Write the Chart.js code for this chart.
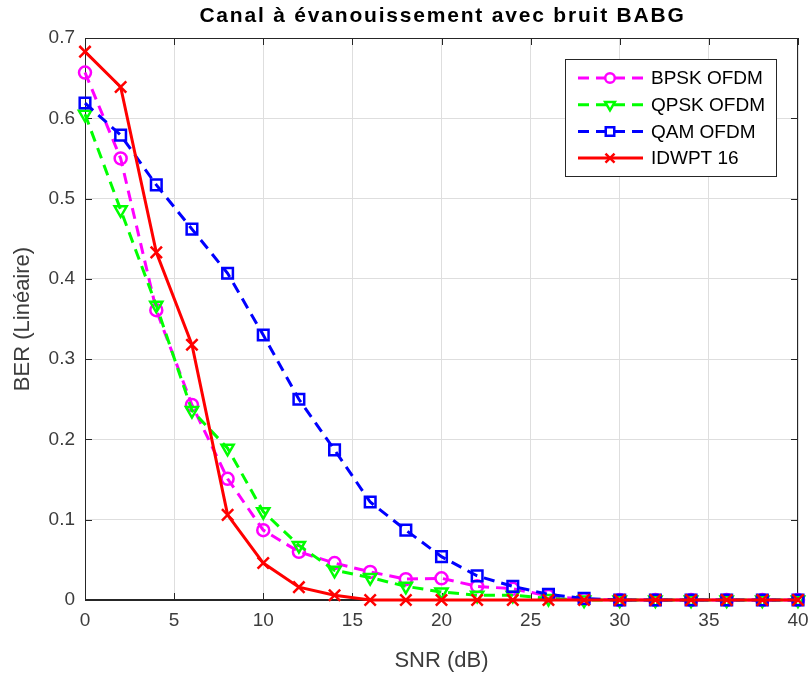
<!DOCTYPE html>
<html>
<head>
<meta charset="utf-8">
<title>Canal à évanouissement avec bruit BABG</title>
<script src="https://cdn.jsdelivr.net/npm/chart.js@4.4.0/dist/chart.umd.min.js"></script>
<style>
  html, body { margin: 0; padding: 0; background: #fff; }
  #wrap { width: 811px; height: 675px; position: relative; }
</style>
</head>
<body>
<div id="wrap"><canvas id="berChart"></canvas></div>
<script>
// SNR sweep in dB
const snr = [0, 2, 4, 6, 8, 10, 12, 14, 16, 18, 20, 22, 24, 26, 28, 30, 32, 34, 36, 38, 40];

// BER curves (linear scale)
const berBpsk  = [0.657, 0.550, 0.361, 0.243, 0.151, 0.087, 0.060, 0.046, 0.035, 0.026, 0.027, 0.017, 0.014, 0.005, 0.001, 0, 0, 0, 0, 0, 0];
const berQpsk  = [0.605, 0.486, 0.367, 0.236, 0.189, 0.110, 0.068, 0.037, 0.028, 0.017, 0.010, 0.006, 0.006, 0.002, 0, 0, 0, 0, 0, 0, 0];
const berQam   = [0.619, 0.579, 0.517, 0.462, 0.407, 0.330, 0.250, 0.187, 0.122, 0.087, 0.054, 0.030, 0.017, 0.007, 0.002, 0, 0, 0, 0, 0, 0];
const berIdwpt = [0.683, 0.639, 0.433, 0.318, 0.106, 0.046, 0.016, 0.006, 0, 0, 0, 0, 0, 0, 0, 0, 0, 0, 0, 0, 0];

const seriesNames = ['BPSK OFDM', 'QPSK OFDM', 'QAM OFDM', 'IDWPT 16'];

// axis ticks
const xTickValues = [0, 5, 10, 15, 20, 25, 30, 35, 40];
const yTickValues = [0, 0.1, 0.2, 0.3, 0.4, 0.5, 0.6, 0.7];

const titleText = 'Canal à évanouissement avec bruit BABG';
const xLabel = 'SNR (dB)';
const yLabel = 'BER (Linéaire)';

const FONT = '"Liberation Sans", Arial, Helvetica, sans-serif';
const AXIS_COLOR = '#262626';
const LABEL_COLOR = '#3c3c3c';
const GRID_COLOR = '#dedede';

Chart.defaults.font.family = FONT;

function toPoints(values) {
    return snr.map((s, i) => ({ x: s, y: values[i] }));
}

// box around the axes plus inward tick marks on all four sides
const axesFrame = {
    id: 'axesFrame',
    beforeDatasetsDraw(chart) {
        const { ctx, chartArea: a, scales: { x, y } } = chart;
        const len = 7;
        ctx.save();
        ctx.strokeStyle = AXIS_COLOR;
        ctx.lineWidth = 1;
        ctx.strokeRect(a.left + 0.5, a.top + 0.5, a.right - a.left - 1, a.bottom - a.top - 1);
        ctx.beginPath();
        xTickValues.forEach(v => {
            const px = Math.round(x.getPixelForValue(v)) + 0.5;
            ctx.moveTo(px, a.bottom);
            ctx.lineTo(px, a.bottom - len);
            ctx.moveTo(px, a.top);
            ctx.lineTo(px, a.top + len);
        });
        yTickValues.forEach(v => {
            const py = Math.round(y.getPixelForValue(v)) + 0.5;
            ctx.moveTo(a.left, py);
            ctx.lineTo(a.left + len, py);
            ctx.moveTo(a.right, py);
            ctx.lineTo(a.right - len, py);
        });
        ctx.stroke();
        ctx.restore();
    }
};

// title centred over the plot area
const plotTitle = {
    id: 'plotTitle',
    afterDraw(chart) {
        const { ctx, chartArea: a } = chart;
        ctx.save();
        ctx.font = 'bold 21px ' + FONT;
        ctx.letterSpacing = '1.8px';
        ctx.fillStyle = '#000';
        ctx.textAlign = 'center';
        ctx.textBaseline = 'middle';
        ctx.fillText(titleText, (a.left + a.right) / 2 + 1, 16);
        ctx.restore();
    }
};

// legend box in the upper right corner, line sample with marker in the middle
const boxLegend = {
    id: 'boxLegend',
    afterDraw(chart) {
        const { ctx, chartArea: a } = chart;
        const w = 211, h = 117;
        const left = a.right - 22 - w;
        const top = a.top + 21;
        ctx.save();
        ctx.fillStyle = '#fff';
        ctx.fillRect(left, top, w, h);
        ctx.strokeStyle = AXIS_COLOR;
        ctx.lineWidth = 1;
        ctx.strokeRect(left + 0.5, top + 0.5, w, h);
        ctx.font = '19px ' + FONT;
        ctx.textBaseline = 'middle';
        chart.data.datasets.forEach((ds, i) => {
            const cy = top + 19 + i * 26.7;
            ctx.strokeStyle = ds.borderColor;
            ctx.lineWidth = ds.borderWidth;
            ctx.setLineDash(ds.borderDash || []);
            ctx.beginPath();
            ctx.moveTo(left + 13, cy);
            ctx.lineTo(left + 78, cy);
            ctx.stroke();
            ctx.setLineDash([]);
            ctx.fillStyle = ds.borderDash ? '#fff' : 'rgba(0,0,0,0)';
            ctx.lineWidth = ds.pointBorderWidth;
            Chart.helpers.drawPoint(ctx, {
                pointStyle: ds.pointStyle,
                rotation: ds.pointRotation || 0,
                radius: ds.pointRadius * 0.8,
                borderWidth: ds.pointBorderWidth
            }, left + 45, cy);
            ctx.fillStyle = '#000';
            ctx.fillText(ds.label, left + 86, cy + 1);
        });
        ctx.restore();
    }
};

const curveStyle = (color, dash, pointStyle, radius, rotation, order) => ({
    borderColor: color,
    backgroundColor: color,
    borderWidth: 3,
    borderDash: dash,
    pointStyle: pointStyle,
    pointRadius: radius,
    pointRotation: rotation,
    pointBorderWidth: 2.5,
    pointBorderColor: color,
    pointBackgroundColor: 'rgba(0,0,0,0)',
    tension: 0,
    fill: false,
    clip: false,
    order: order
});

new Chart(document.getElementById('berChart'), {
    type: 'line',
    data: {
        datasets: [
            { label: seriesNames[0], data: toPoints(berBpsk),  ...curveStyle('#ff00ff', [11, 7], 'circle', 6, 0, 4) },
            { label: seriesNames[1], data: toPoints(berQpsk),  ...curveStyle('#00ff00', [11, 7], 'triangle', 7, 180, 3) },
            { label: seriesNames[2], data: toPoints(berQam),   ...curveStyle('#0000ff', [11, 7], 'rect', 7.5, 0, 2) },
            { label: seriesNames[3], data: toPoints(berIdwpt), ...curveStyle('#ff0000', undefined, 'crossRot', 8, 0, 1) }
        ]
    },
    options: {
        responsive: true,
        maintainAspectRatio: false,
        animation: false,
        events: [],
        layout: { padding: { left: 0, right: 13, top: 38, bottom: 0 } },
        plugins: {
            legend: { display: false },
            tooltip: { enabled: false },
            title: { display: false }
        },
        scales: {
            x: {
                type: 'linear',
                min: 0,
                max: 40,
                afterBuildTicks: scale => { scale.ticks = xTickValues.map(v => ({ value: v })); },
                afterFit: scale => {
                    // fixed axis band; end labels may overhang into the margin
                    scale.height = 75;
                    scale.paddingLeft = 0;
                    scale.paddingRight = 0;
                },
                grid: { color: GRID_COLOR, drawTicks: false },
                border: { color: AXIS_COLOR },
                ticks: {
                    color: LABEL_COLOR,
                    font: { size: 19 },
                    padding: 9,
                    maxRotation: 0,
                    callback: v => String(v)
                },
                title: {
                    display: true,
                    text: xLabel,
                    color: LABEL_COLOR,
                    font: { size: 22 },
                    padding: { top: 0, bottom: 1 }
                }
            },
            y: {
                type: 'linear',
                min: 0,
                max: 0.7,
                afterBuildTicks: scale => { scale.ticks = yTickValues.map(v => ({ value: v })); },
                afterFit: scale => {
                    scale.width = 85;
                    scale.paddingTop = 0;
                    scale.paddingBottom = 0;
                },
                grid: { color: GRID_COLOR, drawTicks: false },
                border: { color: AXIS_COLOR },
                ticks: {
                    color: LABEL_COLOR,
                    font: { size: 19 },
                    padding: 10,
                    callback: v => String(v)
                },
                title: {
                    display: true,
                    text: yLabel,
                    color: LABEL_COLOR,
                    font: { size: 22 },
                    padding: { top: 10, bottom: 0 }
                }
            }
        }
    },
    plugins: [axesFrame, plotTitle, boxLegend]
});
</script>
</body>
</html>
